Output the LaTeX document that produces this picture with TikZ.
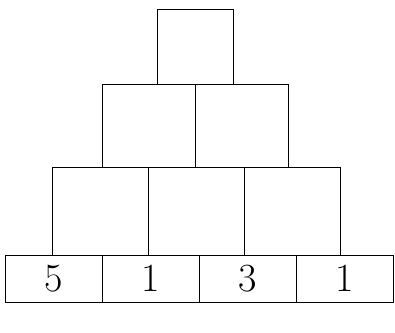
\documentclass[tikz,border=0pt]{standalone}
\usepackage{xcolor}
\usetikzlibrary{positioning}

\begin{document}
\begin{tikzpicture}[x=1pt, y=-1pt, line width=1pt,
    every node/.style={rectangle, draw, inner sep=0pt, outer sep=0pt},
    cell/.style={minimum width=95pt, minimum height=87pt},
    basecell/.style={minimum width=97pt, minimum height=47pt, font=\fontsize{40}{40}\selectfont}]
    \useasboundingbox (0,0) rectangle (395,332);
    % bottom row
    \node[basecell] (b1) at (53.5,278.5) {5};
    \node[basecell, right=0pt of b1] (b2) {1};
    \node[basecell, right=0pt of b2] (b3) {3};
    \node[basecell, right=0pt of b3] (b4) {1};
    % row of three
    \node[cell, minimum width=96pt, minimum height=88pt] (c1) at (100,211) {};
    \node[cell, minimum width=96pt, minimum height=88pt, right=0pt of c1] (c2) {};
    \node[cell, minimum width=96pt, minimum height=88pt, right=0pt of c2] (c3) {};
    % row of two
    \node[cell, minimum width=93pt, minimum height=83pt] (d1) at (148.5,125.5) {};
    \node[cell, minimum width=93pt, minimum height=83pt, right=0pt of d1] (d2) {};
    % top
    \node[cell, minimum width=76pt, minimum height=75pt] (t) at (195,46.5) {};
\end{tikzpicture}
\end{document}
